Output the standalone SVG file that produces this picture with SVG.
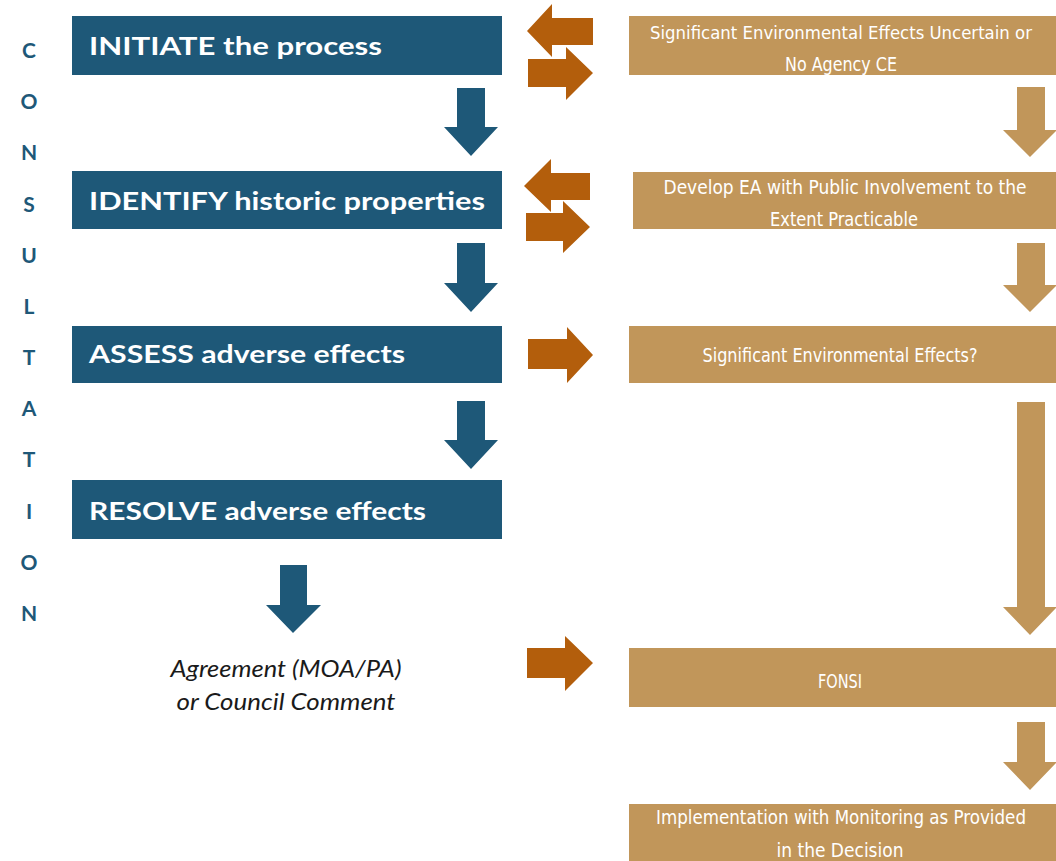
<svg xmlns="http://www.w3.org/2000/svg" width="1056" height="861" viewBox="0 0 1056 861">
<style>
.bbox{fill:#1e5878}
.tbox{fill:#c1965a}
.barr{fill:#1e5878}
.tarr{fill:#c1965a}
.oarr{fill:#b35e0c}
.btxt{font-family:Lato,"Open Sans",sans-serif;font-weight:bold;font-size:25px;fill:#ffffff}
.ttxt{font-family:"Liberation Sans Narrow","DejaVu Sans Condensed",sans-serif;font-stretch:condensed;font-size:20px;fill:#ffffff;text-anchor:middle}
.vert{font-family:Lato,"Open Sans",sans-serif;font-weight:bold;font-size:21px;fill:#1e5878;text-anchor:middle}
.ital{font-family:Lato,"Open Sans",sans-serif;font-style:italic;font-size:23px;fill:#1a1a1a;text-anchor:middle}
</style>
<rect width="1056" height="861" fill="#ffffff"/>
<g id="consultation">
<text class="vert" x="29" y="58">C</text>
<text class="vert" x="29" y="109">O</text>
<text class="vert" x="29" y="160">N</text>
<text class="vert" x="29" y="212">S</text>
<text class="vert" x="29" y="263">U</text>
<text class="vert" x="29" y="314">L</text>
<text class="vert" x="29" y="365">T</text>
<text class="vert" x="29" y="416">A</text>
<text class="vert" x="29" y="467">T</text>
<text class="vert" x="29" y="519">I</text>
<text class="vert" x="29" y="570">O</text>
<text class="vert" x="29" y="621">N</text>
</g>
<g id="initiate"><rect class="bbox" x="72" y="16" width="430" height="59"/><text class="btxt" x="89" y="55" textLength="293" lengthAdjust="spacingAndGlyphs">INITIATE the process</text></g>
<g id="identify"><rect class="bbox" x="72" y="171" width="430" height="58"/><text class="btxt" x="89" y="210" textLength="396" lengthAdjust="spacingAndGlyphs">IDENTIFY historic properties</text></g>
<g id="assess"><rect class="bbox" x="72" y="326" width="430" height="57"/><text class="btxt" x="89" y="363" textLength="316" lengthAdjust="spacingAndGlyphs">ASSESS adverse effects</text></g>
<g id="resolve"><rect class="bbox" x="72" y="480" width="430" height="59"/><text class="btxt" x="89" y="520" textLength="337" lengthAdjust="spacingAndGlyphs">RESOLVE adverse effects</text></g>
<g id="agreement"><text class="ital" x="286" y="677" textLength="231" lengthAdjust="spacingAndGlyphs">Agreement (MOA/PA)</text><text class="ital" x="286" y="710" textLength="219" lengthAdjust="spacingAndGlyphs">or Council Comment</text></g>
<g id="uncertain"><rect class="tbox" x="629" y="16" width="427" height="59"/><text class="ttxt" x="841" y="39" style="font-size:18.5px" textLength="382" lengthAdjust="spacingAndGlyphs">Significant Environmental Effects Uncertain or</text><text class="ttxt" x="841" y="71" textLength="112" lengthAdjust="spacingAndGlyphs">No Agency CE</text></g>
<g id="develop"><rect class="tbox" x="633" y="172" width="423" height="57"/><text class="ttxt" x="845" y="194" textLength="363" lengthAdjust="spacingAndGlyphs">Develop EA with Public Involvement to the</text><text class="ttxt" x="844" y="226" textLength="148" lengthAdjust="spacingAndGlyphs">Extent Practicable</text></g>
<g id="significant"><rect class="tbox" x="629" y="326" width="427" height="57"/><text class="ttxt" x="840" y="362" textLength="275" lengthAdjust="spacingAndGlyphs">Significant Environmental Effects?</text></g>
<g id="fonsi"><rect class="tbox" x="629" y="648" width="427" height="59"/><text class="ttxt" x="840" y="688" textLength="44" lengthAdjust="spacingAndGlyphs">FONSI</text></g>
<g id="implementation"><rect class="tbox" x="629" y="804" width="427" height="57"/><text class="ttxt" x="841" y="824" textLength="370" lengthAdjust="spacingAndGlyphs">Implementation with Monitoring as Provided</text><text class="ttxt" x="840" y="857" textLength="127" lengthAdjust="spacingAndGlyphs">in the Decision</text></g>
<g id="connectors">
<polygon class="barr" points="457,88 485,88 485,127 498,127 471,156 444,127 457,127"/>
<polygon class="barr" points="457,243 485,243 485,283 498,283 471,312 444,283 457,283"/>
<polygon class="barr" points="457,401 485,401 485,440 498,440 471,469 444,440 457,440"/>
<polygon class="barr" points="280,565 307,565 307,605 321,605 293,633 266,605 280,605"/>
<polygon class="tarr" points="1017,87 1045,87 1045,130 1057,130 1030,157 1003,130 1017,130"/>
<polygon class="tarr" points="1017,243 1045,243 1045,285 1057,285 1030,312 1003,285 1017,285"/>
<polygon class="tarr" points="1017,402 1045,402 1045,607 1057,607 1030,635 1003,607 1017,607"/>
<polygon class="tarr" points="1017,722 1045,722 1045,762 1057,762 1030,790 1003,762 1017,762"/>
<polygon class="oarr" points="527,31 552,4 552,18 593,18 593,45 552,45 552,57"/>
<polygon class="oarr" points="528,59 566,59 566,47 593,73 566,100 566,87 528,87"/>
<polygon class="oarr" points="524,186 551,159 551,173 590,173 590,200 551,200 551,212"/>
<polygon class="oarr" points="526,213 563,213 563,201 590,227 563,253 563,241 526,241"/>
<polygon class="oarr" points="528,339 567,339 567,327 593,355 567,383 567,369 528,369"/>
<polygon class="oarr" points="527,648 565,648 565,636 593,663 565,691 565,678 527,678"/>
</g>
</svg>
